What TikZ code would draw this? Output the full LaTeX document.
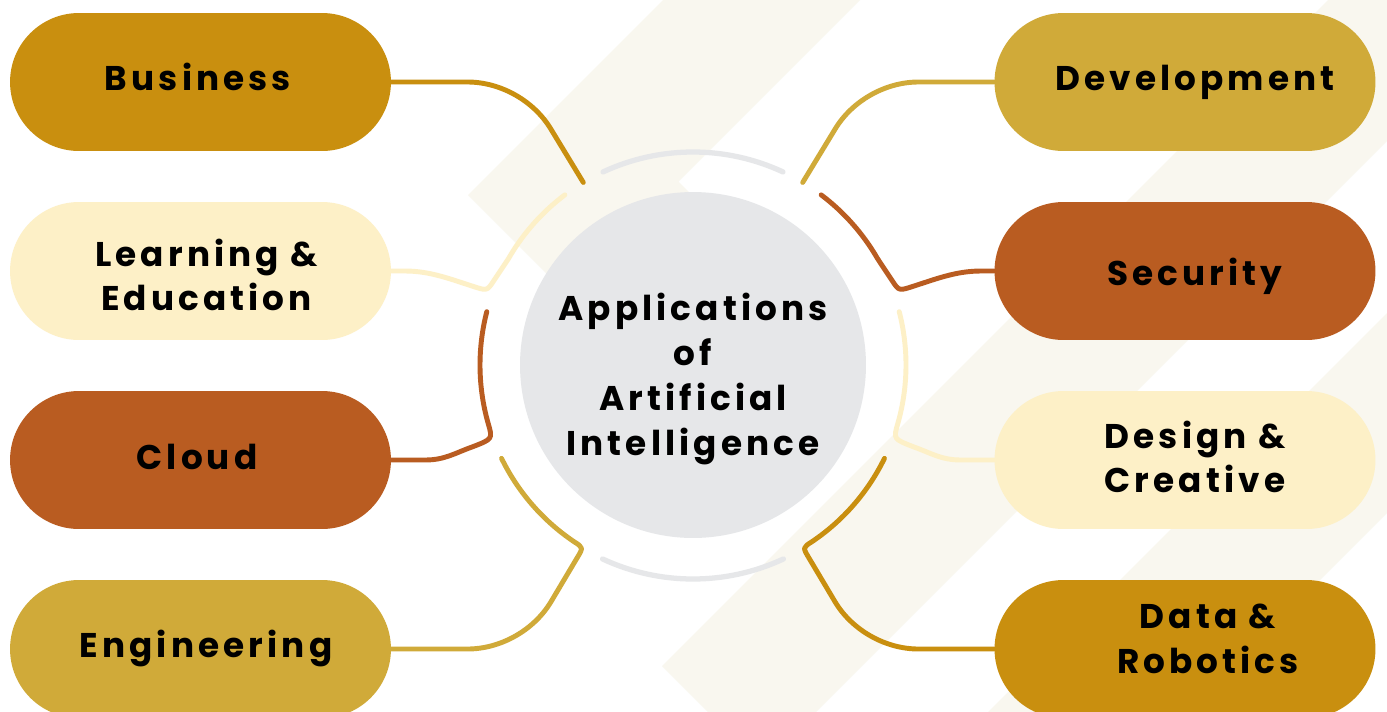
\documentclass[tikz,border=0pt]{standalone}
\usepackage{fontspec}
\setmainfont{Poppins}[LetterSpace=12]
\usetikzlibrary{calc}
\definecolor{cGold}{HTML}{C98F0F}
\definecolor{cMust}{HTML}{D0AA39}
\definecolor{cRust}{HTML}{B95C21}
\definecolor{cCream}{HTML}{FDF0C7}
\definecolor{cGrey}{HTML}{E6E7E9}
\definecolor{cStripe}{HTML}{F9F7EF}
\begin{document}
\begin{tikzpicture}[x=0.02cm, y=-0.02cm,
  pill/.style={rectangle, rounded corners=1.38cm, minimum width=7.62cm, minimum height=2.76cm, inner sep=0pt},
  lbl/.style={font=\fontsize{19.5}{25.5}\selectfont\bfseries, text=black, align=center, inner sep=0pt},
  conn/.style={line width=2.8pt, line cap=round, line join=round},
  arcline/.style={line width=3pt, line cap=round, draw=cGrey}]
\useasboundingbox (0,0) rectangle (1387,711);
\begin{scope}
\clip (0,0) rectangle (1387,711);
\fill[white] (0,0) rectangle (1387,711);
% background stripes
\fill[cStripe] (663,0) -- (468,195) -- (700,427) -- (750,253) -- (678.5,181.5) -- (860,0) -- cycle;
\fill[cStripe] (1328,0) -- (662,666) -- (762,766) -- (1528,0) -- cycle;
\fill[cStripe] (1700,0) -- (900,800) -- (1100,800) -- (1900,0) -- cycle;

\coordinate (C) at (693,365);

% pills
\node[pill, fill=cGold]  (bus)   at (200.5,82)  {};
\node[pill, fill=cCream] (learn) at (200.5,271) {};
\node[pill, fill=cRust]  (cloud) at (200.5,460) {};
\node[pill, fill=cMust]  (eng)   at (200.5,649) {};
\node[pill, fill=cMust]  (dev)   at (1185,82)   {};
\node[pill, fill=cRust]  (sec)   at (1185,271)  {};
\node[pill, fill=cCream] (des)   at (1185,460)  {};
\node[pill, fill=cGold]  (data)  at (1185,649)  {};

% connectors
\draw[conn, draw=cGold] (bus.east) -- (467.6,82) .. controls (500.6,82) and (533.9,100.8) .. (550.9,129.1) -- ($(C)+(-121:213)$);
\draw[conn, draw=cMust] (dev.west) -- (918.4,82) .. controls (885.4,82) and (852.1,100.8) .. (835.1,129.1) -- ($(C)+(-59:213)$);
\draw[conn, draw=cCream] (learn.east) -- (405,271) .. controls (430,271) and (450,279) .. (472,286)
   .. controls (487,291) .. (493.6,281) -- ($(C)+(-150:213)$) arc[start angle=-150, end angle=-127, radius=213];
\draw[conn, draw=cRust] (sec.west) -- (981,271) .. controls (956,271) and (936,279) .. (914,286)
   .. controls (899,291) .. (892.4,281) -- ($(C)+(-30:213)$) arc[start angle=-30, end angle=-53, radius=213];
\draw[conn, draw=cRust] (cloud.east) -- (425,460) .. controls (445,460) and (455,453) .. (472,447)
   .. controls (492.7,439) .. ($(C)+(-196:213)$) arc[start angle=-196, end angle=-165.5, radius=213];
\draw[conn, draw=cCream] (des.west) -- (961,460) .. controls (941,460) and (931,453) .. (914,447)
   .. controls (893.3,439) .. ($(C)+(16:213)$) arc[start angle=16, end angle=-14.5, radius=213];
\draw[conn, draw=cMust] (eng.east) -- (467.6,649) .. controls (500.6,649) and (533.9,630.2) .. (550.9,601.9) -- ($(C)+(-239:225)$)
   .. controls ($(C)+(-239:213)$) .. ($(C)+(-236:213)$) arc[start angle=-236, end angle=-206, radius=213];
\draw[conn, draw=cGold] (data.west) -- (918.4,649) .. controls (885.4,649) and (852.1,630.2) .. (835.1,601.9) -- ($(C)+(-301:225)$)
   .. controls ($(C)+(-301:213)$) .. ($(C)+(-304:213)$) arc[start angle=-304, end angle=-334, radius=213];

% grey arcs
\draw[arcline] ($(C)+(-115:213)$) arc[start angle=-115, end angle=-65, radius=213];
\draw[arcline] ($(C)+(-245:214)$) arc[start angle=-245, end angle=-295, radius=214];

% hub
\node[circle, fill=cGrey, minimum size=6.92cm, inner sep=0pt] (hub) at (C) {};
\node[lbl] (hubT) at (693,379) {Applications\\of\\Artificial\\Intelligence};

% labels
\node[lbl, anchor=base] (busT)   at (198,90)  {Business};
\node[lbl] (learnT) at (206.5,275) {Learning \&\\Education};
\node[lbl, anchor=base] (cloudT) at (197,469) {Cloud};
\node[lbl, anchor=base] (engT)   at (206,657) {Engineering};
\node[lbl, anchor=base] (devT)   at (1195,90) {Development};
\node[lbl, anchor=base] (secT)   at (1195,285) {Security};
\node[lbl] (desT)  at (1195,457) {Design \&\\Creative};
\node[lbl] (dataT) at (1208,639) {Data \&\\Robotics};
\end{scope}
\end{tikzpicture}
\end{document}
